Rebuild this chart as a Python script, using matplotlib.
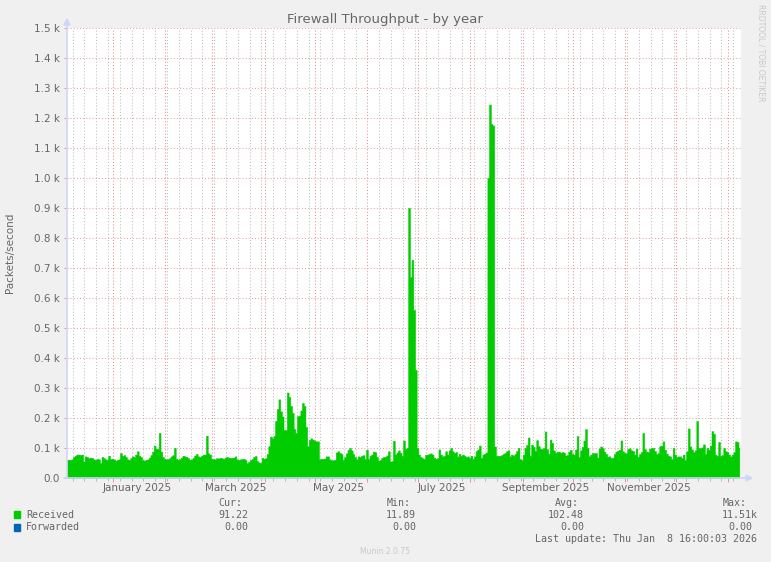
import datetime as dt
import matplotlib
matplotlib.use("Agg")
import matplotlib.pyplot as plt
import matplotlib.dates as mdates
from matplotlib.patches import Rectangle, Polygon

# time range of the munin "by year" graph (400 days)
start = dt.datetime(2024, 12, 4, 16, 0)
end = dt.datetime(2026, 1, 8, 16, 0)

# daily values, packets/second
received = [
    61, 61, 60, 62, 70, 74, 78, 78, 76, 78,
    55, 72, 70, 66, 68, 67, 62, 61, 63, 62,
    50, 70, 66, 62, 61, 74, 63, 64, 62, 58,
    60, 62, 83, 73, 76, 70, 62, 60, 66, 72,
    70, 78, 89, 74, 70, 60, 58, 60, 62, 68,
    76, 88, 108, 98, 96, 150, 88, 70, 64, 62,
    63, 66, 72, 76, 100, 64, 61, 63, 68, 74,
    72, 70, 66, 61, 62, 67, 75, 80, 72, 70,
    74, 78, 78, 141, 82, 78, 64, 63, 62, 66,
    65, 67, 66, 64, 68, 70, 68, 66, 67, 68,
    72, 62, 60, 62, 63, 64, 60, 49, 54, 60,
    63, 70, 73, 56, 52, 50, 67, 64, 66, 80,
    106, 138, 132, 140, 190, 230, 262, 222, 205, 160,
    160, 285, 270, 240, 217, 163, 150, 206, 208, 225,
    250, 240, 170, 106, 126, 132, 128, 124, 122, 122,
    62, 64, 64, 65, 72, 72, 62, 59, 59, 60,
    85, 89, 84, 80, 60, 70, 82, 94, 100, 92,
    80, 70, 62, 72, 70, 74, 76, 63, 94, 63,
    74, 78, 88, 86, 70, 58, 60, 67, 70, 71,
    75, 89, 55, 56, 124, 78, 85, 92, 84, 74,
    125, 97, 100, 900, 670, 727, 560, 360, 100, 78,
    70, 66, 64, 77, 78, 80, 82, 78, 68, 64,
    66, 95, 78, 72, 74, 89, 78, 92, 100, 89,
    83, 86, 72, 81, 74, 78, 74, 70, 72, 67,
    74, 64, 72, 89, 95, 108, 67, 78, 81, 85,
    1000, 1245, 1180, 1175, 105, 74, 74, 74, 76, 80,
    83, 89, 92, 72, 78, 74, 80, 90, 100, 63,
    60, 78, 100, 110, 135, 74, 111, 104, 90, 126,
    106, 98, 96, 100, 155, 96, 81, 128, 117, 92,
    84, 87, 88, 84, 86, 85, 75, 76, 88, 94,
    80, 78, 95, 140, 70, 92, 104, 125, 163, 100,
    72, 78, 83, 83, 83, 68, 98, 105, 100, 88,
    80, 71, 72, 66, 68, 80, 88, 91, 94, 125,
    89, 83, 82, 96, 99, 92, 90, 78, 98, 71,
    80, 86, 150, 96, 88, 86, 98, 100, 100, 90,
    80, 83, 106, 108, 122, 94, 81, 74, 72, 63,
    100, 78, 70, 72, 72, 67, 78, 59, 89, 165,
    105, 95, 86, 92, 190, 100, 100, 102, 112, 80,
    100, 94, 108, 156, 148, 78, 74, 120, 74, 76,
    100, 89, 86, 78, 72, 78, 86, 122, 120, 100,
]
forwarded = [0.0] * len(received)   # the forwarded counter stays at 0

series_names = ["Received", "Forwarded"]
series_colors = ["#00CC00", "#0066B3"]
stat_headers = ["Cur:", "Min:", "Avg:", "Max:"]
stats_received = ["91.22", "11.89", "102.48", "11.51k"]
stats_forwarded = ["0.00", "0.00", "0.00", "0.00"]

month_labels = ["January 2025", "March 2025", "May 2025",
                "July 2025", "September 2025", "November 2025"]
label_dates = [dt.datetime(2025, m, 15) for m in (1, 3, 5, 7, 9, 11)]

y_ticks = [i * 100 for i in range(16)]

W, H = 771, 562
FONT = "#666666"
AXIS = "#CFD6F8"

fig = plt.figure(figsize=(W / 100, H / 100), dpi=100, facecolor="#F0F0F0")
# axes placed in pixels: canvas 67..741 x 28..478
ax = fig.add_axes([67 / W, 1 - 478 / H, 674 / W, 450 / H])
ax.set_facecolor("white")

dates = [start + dt.timedelta(days=i) for i in range(len(received))]
ax.fill_between(dates, 0, received, step="mid", facecolor=series_colors[0],
                edgecolor=series_colors[0], lw=0.4, zorder=3)
stacked = [r + f for r, f in zip(received, forwarded)]
ax.fill_between(dates, received, stacked, step="mid", color=series_colors[1], lw=0, zorder=3)

ax.set_xlim(start, end)
ax.set_ylim(0, 1500)

# grid: red for months / labelled values, grey for weeks
ax.xaxis.set_major_locator(mdates.MonthLocator())
ax.xaxis.set_minor_locator(mdates.WeekdayLocator(byweekday=mdates.SU))
ax.xaxis.set_major_formatter(plt.NullFormatter())
ax.set_yticks(y_ticks)
ax.set_yticklabels(["0.0" if v == 0 else "%.1f k" % (v / 1000) for v in y_ticks])

ax.set_axisbelow(True)
ax.grid(which="minor", axis="x", color="#BEBEBE", lw=0.75, ls=(0, (1, 2)))
ax.grid(which="major", axis="x", color="#EE7777", lw=0.75, ls=(0, (1, 2)), alpha=0.85)
ax.grid(which="major", axis="y", color="#D9A0A0", lw=0.75, ls=(0, (1, 2)), alpha=0.9)

ax.tick_params(axis="x", which="major", direction="out", length=3, color="#F08080", width=0.6)
ax.tick_params(axis="x", which="minor", direction="out", length=2, color="#B0B0B0", width=0.6)
ax.tick_params(axis="y", direction="out", length=2, color="#F08080", width=0.6,
               labelsize=7.5, labelcolor=FONT, pad=3)

for s in ax.spines.values():
    s.set_visible(False)

# axis lines with arrows, as rrdtool draws them
fig.add_artist(plt.Line2D([67 / W, 67 / W], [1 - 478 / H, 1 - 24 / H], color=AXIS, lw=1.2))
fig.add_artist(plt.Line2D([64 / W, 747 / W], [1 - 478 / H, 1 - 478 / H], color=AXIS, lw=1.2))
fig.add_artist(Polygon([[64 / W, 1 - 25 / H], [70 / W, 1 - 25 / H], [67 / W, 1 - 19 / H]],
                       closed=True, color=AXIS, transform=fig.transFigure))
fig.add_artist(Polygon([[746 / W, 1 - 475 / H], [746 / W, 1 - 481 / H], [752 / W, 1 - 478 / H]],
                       closed=True, color=AXIS, transform=fig.transFigure))

# month labels, centred in the middle of the month
for d, lab in zip(label_dates, month_labels):
    ax.text(mdates.date2num(d), -0.022, lab, transform=ax.get_xaxis_transform(),
            ha="center", va="center", fontsize=7.5, color=FONT)

fig.text(385 / W, 1 - 19 / H, "Firewall Throughput - by year", ha="center", va="center",
         fontsize=9.5, color=FONT)
fig.text(10 / W, 1 - 253 / H, "Packets/second", rotation=90, ha="center", va="center",
         fontsize=7.5, color=FONT)
fig.text(761 / W, 1 - 53 / H, "RRDTOOL / TOBI OETIKER", rotation=270, ha="center", va="center",
         fontsize=5.5, color="#C8C8C8")

# legend block in monospace
mono = "DejaVu Sans Mono"
header_x = [218, 387, 555, 723]
value_right = [248, 416, 584, 758]
for x, h in zip(header_x, stat_headers):
    fig.text(x / W, 1 - 503 / H, h, ha="left", va="center", family=mono, fontsize=7.2, color=FONT)

rows = [stats_received, stats_forwarded]
row_y = [514.5, 527]
for name, col, vals, y in zip(series_names, series_colors, rows, row_y):
    fig.add_artist(Rectangle((14 / W, 1 - (y + 3.5) / H), 6 / W, 7 / H, color=col,
                             transform=fig.transFigure))
    fig.text(26 / W, 1 - y / H, name, ha="left", va="center", family=mono, fontsize=7.2, color=FONT)
    for i, (xr, v) in enumerate(zip(value_right, vals)):
        if i == 3 and not v.endswith("k"):
            xr -= 6
        fig.text(xr / W, 1 - y / H, v, ha="right", va="center", family=mono, fontsize=7.2, color=FONT)

fig.text(757 / W, 1 - 539 / H, "Last update: Thu Jan  8 16:00:03 2026", ha="right", va="center",
         family=mono, fontsize=7.2, color=FONT)
fig.text(385 / W, 1 - 551 / H, "Munin 2.0.75", ha="center", va="center",
         fontsize=5.5, color="#C8C8C8")

fig.savefig("out.png", dpi=100, facecolor=fig.get_facecolor())
